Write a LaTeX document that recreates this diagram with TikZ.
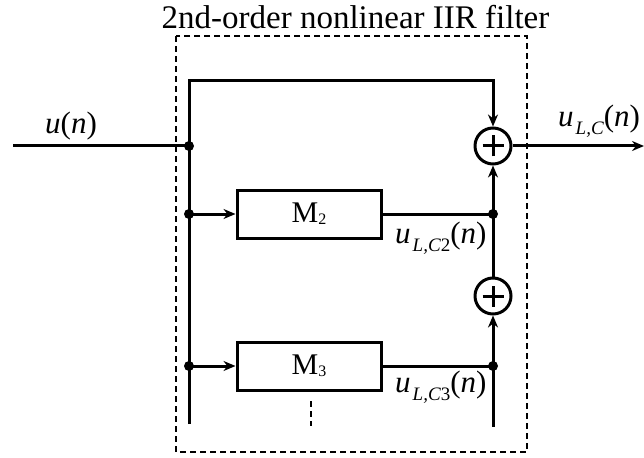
\documentclass[tikz,border=0pt]{standalone}
\usepackage{fontspec}
\setmainfont{Liberation Serif}
\usetikzlibrary{arrows.meta}
\newcommand{\ulab}[1]{\textit{u}\kern2pt\raisebox{-8pt}{\fontsize{19}{19}\selectfont #1}(\textit{n})}
\tikzset{
  wire/.style={line width=3pt},
  arr/.style={-{Stealth[length=12pt,width=10pt]}},
  dashbox/.style={line width=2.8pt, dash pattern=on 6pt off 4pt},
  blk/.style={draw, line width=3pt, minimum width=144pt, minimum height=48pt, inner sep=0pt,
    font=\fontsize{30}{30}\selectfont},
  sumnode/.style={circle, draw, line width=3pt, minimum size=36pt, inner sep=0pt,
    path picture={\draw[line width=3pt] (path picture bounding box.center) ++(-10.5pt,0pt) -- ++(21pt,0pt);
                  \draw[line width=3pt] (path picture bounding box.center) ++(0pt,-10.5pt) -- ++(0pt,21pt);}},
  jdot/.style={circle, fill, inner sep=0pt, minimum size=10pt},
  lab/.style={font=\fontsize{31}{31}\selectfont, inner sep=0pt},
}
\begin{document}
\begin{tikzpicture}[x=1pt,y=-1pt]
\useasboundingbox (0,0) rectangle (644,457);
% title and frame
\node[font=\fontsize{33}{33}\selectfont, anchor=base, inner sep=0pt] (title) at (355.5,29) {2nd-order nonlinear IIR filter};
\coordinate (fa) at (176,36);
\coordinate (fb) at (527,452);
\draw[dashbox] (fa) rectangle (fb);
% nodes
\coordinate (in) at (13,146);
\coordinate (tl) at (189,81);
\coordinate (tr) at (493,81);
\coordinate (bb) at (189,424);
\coordinate (rb) at (493,427);
\coordinate (out) at (644,146);
\coordinate (va) at (311,401);
\coordinate (vb) at (311,426);
\node[jdot] (d0) at (189,146) {};
\node[sumnode] (s1) at (493,146) {};
\node[sumnode] (s2) at (493,296) {};
\node[blk] (m2) at (309,214) {M\raisebox{-2pt}{\fontsize{16}{16}\selectfont 2}};
\node[blk] (m3) at (309,366) {M\raisebox{-2pt}{\fontsize{16}{16}\selectfont 3}};
\node[jdot] (d2l) at (189,214) {};
\node[jdot] (d3l) at (189,366) {};
\node[jdot] (d2r) at (493,214) {};
\node[jdot] (d3r) at (493,366) {};
% connectors
\draw[wire] (in) -- (d0.center);
\draw[wire,arr] (bb) -- (tl) -- (tr) -- (s1.north);
\draw[wire,arr] (d2l.center) -- (m2.west);
\draw[wire,arr] (d3l.center) -- (m3.west);
\draw[wire] (m2.east) -- (d2r.center);
\draw[wire] (m3.east) -- (d3r.center);
\draw[wire,arr] (d2r.center) -- (s1.south);
\draw[wire] (d2r.center) -- (s2.north);
\draw[wire,arr] (d3r.center) -- (s2.south);
\draw[wire] (d3r.center) -- (rb);
\draw[wire,arr] (s1.east) -- (out);
\draw[dashbox] (va) -- (vb);
% labels
\node[lab, anchor=base west] (lu) at (45,134) {\textit{u}(\textit{n})};
\node[lab, anchor=base west] (luc) at (558,127) {\ulab{\textit{L,C}}};
\node[lab, anchor=base west] (luc2) at (395,243.5) {\ulab{\textit{L,C}2}};
\node[lab, anchor=base west] (luc3) at (395,392) {\ulab{\textit{L,C}3}};
\end{tikzpicture}
\end{document}
